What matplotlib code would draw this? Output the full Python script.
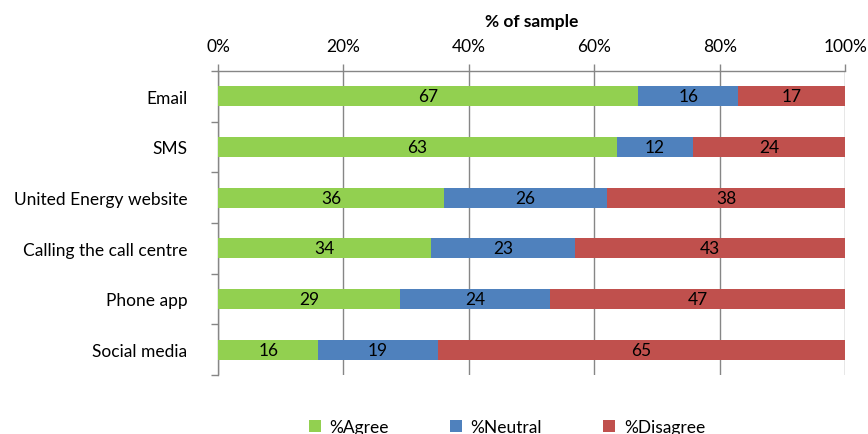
import matplotlib
matplotlib.use("Agg")
import matplotlib.pyplot as plt
import numpy as np
from matplotlib.ticker import MultipleLocator, FixedLocator, PercentFormatter

plt.rcParams['font.family'] = ['Lato', 'DejaVu Sans']

channels = ["Email", "SMS", "United Energy website", "Calling the call centre",
            "Phone app", "Social media"]
agree = [67, 63, 36, 34, 29, 16]
neutral = [16, 12, 26, 23, 24, 19]
disagree = [17, 24, 38, 43, 47, 65]
series_names = ["%Agree", "%Neutral", "%Disagree"]
colors = ["#92D050", "#4F81BD", "#C0504D"]

data = np.array([agree, neutral, disagree], dtype=float)
shares = data / data.sum(axis=0) * 100  # 100% stacked

FS = 12.5

fig = plt.figure(figsize=(8.68, 4.35), dpi=100)
ax = fig.add_axes([0.2512, 0.1356, 0.7224, 0.699])

y = np.arange(len(channels))
left = np.zeros(len(channels))
handles = []
for vals, shr, name, col in zip(data, shares, series_names, colors):
    bars = ax.barh(y, shr, left=left, height=0.4, color=col, label=name, zorder=3)
    for yi, l, s, v in zip(y, left, shr, vals):
        ax.text(l + s / 2, yi, f"{int(v)}", ha="center", va="center",
                fontsize=FS, color="black", zorder=4)
    left += shr
    handles.append(bars)

ax.set_xlim(0, 100)
ax.set_ylim(len(channels) - 0.5, -0.5)
ax.set_yticks(y)
ax.set_yticklabels(channels, fontsize=FS)
ax.yaxis.set_minor_locator(FixedLocator(np.arange(-0.5, len(channels), 1)))
ax.tick_params(axis="y", which="major", length=0, pad=22)
ax.tick_params(axis="y", which="minor", length=5, color="#868686", width=1)

ax.xaxis.set_major_locator(MultipleLocator(20))
ax.xaxis.set_major_formatter(PercentFormatter(decimals=0))
ax.xaxis.tick_top()
ax.xaxis.set_label_position("top")
ax.tick_params(axis="x", which="major", length=5, color="#868686", width=1,
               labelsize=FS, pad=7)
ax.set_xlabel("% of sample", fontsize=FS, fontweight="bold", labelpad=9)
ax.grid(axis="x", color="#868686", linewidth=1, zorder=0)

for side in ["right", "bottom"]:
    ax.spines[side].set_visible(False)
for side in ["top", "left"]:
    ax.spines[side].set_color("#868686")
    ax.spines[side].set_linewidth(1)

fig.legend(handles=handles, labels=series_names, loc="center",
           bbox_to_anchor=(0.584, 0.015), ncol=3, frameon=False, fontsize=FS,
           handlelength=0.7, handleheight=0.7, columnspacing=3.5, handletextpad=0.5)

fig.savefig("out.png", dpi=100)
